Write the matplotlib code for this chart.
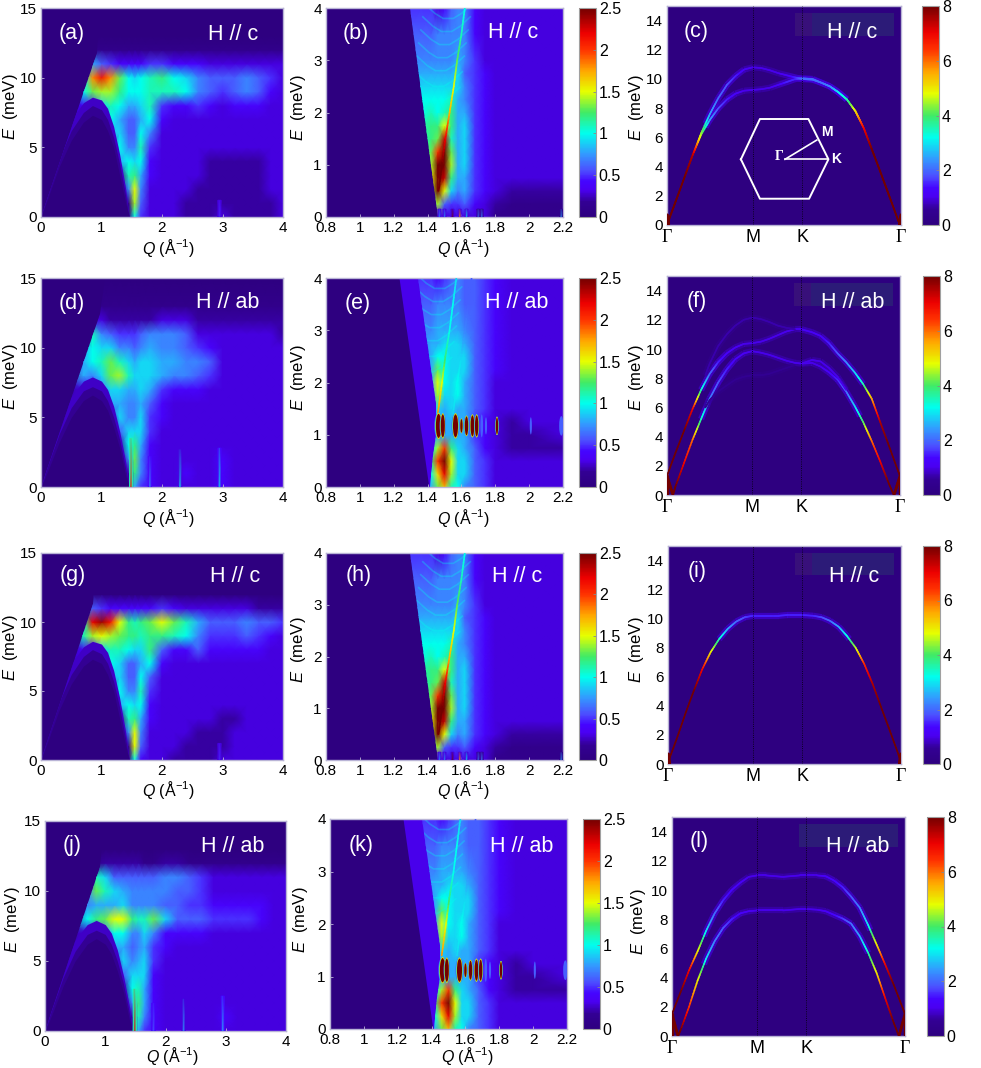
import numpy as np
import matplotlib
matplotlib.use("Agg")
import matplotlib.pyplot as plt
from matplotlib.collections import LineCollection
from matplotlib.colors import LinearSegmentedColormap, Normalize
from matplotlib.cm import ScalarMappable
from matplotlib.patches import Ellipse, Polygon, Rectangle

plt.rcParams['font.family'] = ['Liberation Sans', 'DejaVu Sans']
plt.rcParams['mathtext.fontset'] = 'custom'
plt.rcParams['mathtext.rm'] = 'Liberation Sans'
plt.rcParams['mathtext.it'] = 'Liberation Sans:italic'

W, H = 981, 1068

# intensities are in tenths of the colorbar unit (0-25)
q_wide = [0, .4, .7, .85, 1, 1.15, 1.3, 1.45, 1.55, 1.65, 1.8, 2, 2.2, 2.4, 2.6, 2.8, 3, 3.2, 3.4, 3.6, 3.8, 4]
e_wide = [0, 1, 2, 3, 4, 5, 6, 7, 8, 9, 10, 11, 12, 13, 15]

grid_a = [
    [0, 0, 0, 0, 0, 0, 0, 0, 10, 5, 3, 3, 3, 2, 2, 2, 3, 2, 2, 2, 2, 3],
    [1, 1, 0, 0, 0, 0, 0, 1, 14, 6, 3, 3, 3, 2, 2, 2, 2, 2, 2, 2, 2, 3],
    [1, 1, 0, 0, 0, 0, 0, 7, 15, 7, 3, 3, 3, 3, 2, 2, 2, 2, 2, 2, 3, 3],
    [1, 1, 1, 0, 0, 0, 1, 11, 12, 8, 4, 3, 3, 3, 3, 2, 2, 2, 2, 2, 3, 3],
    [1, 2, 2, 1, 0, 0, 8, 10, 9, 10, 4, 3, 3, 3, 3, 2, 2, 2, 2, 2, 3, 3],
    [1, 2, 3, 2, 1, 2, 10, 7, 7, 11, 5, 3, 3, 3, 3, 3, 3, 3, 3, 3, 3, 3],
    [1, 2, 3, 3, 2, 8, 9, 6, 6, 10, 7, 3, 3, 3, 3, 3, 3, 3, 3, 3, 3, 3],
    [1, 2, 3, 3, 5, 10, 8, 6, 6, 8, 10, 4, 3, 3, 3, 3, 3, 3, 3, 3, 3, 3],
    [1, 2, 4, 5, 9, 11, 10, 8, 8, 9, 11, 5, 4, 4, 5, 4, 3, 4, 4, 4, 3, 3],
    [1, 2, 10, 13, 14, 14, 12, 10, 10, 10, 11, 11, 11, 10, 7, 6, 5, 6, 7, 6, 4, 3],
    [1, 2, 10, 18, 21, 18, 13, 10, 9, 10, 11, 12, 10, 9, 7, 6, 6, 6, 7, 6, 5, 3],
    [0, 0, 2, 8, 6, 5, 4, 4, 4, 4, 5, 5, 4, 4, 4, 3, 3, 3, 3, 3, 3, 3],
    [0, 0, 0, 1, 1, 1, 1, 1, 1, 1, 1, 1, 1, 1, 1, 1, 1, 1, 1, 1, 1, 1],
    [0] * 22,
    [0] * 22,
]
grid_d = [
    [0, 0, 0, 0, 0, 0, 0, 0, 8, 5, 4, 3, 3, 3, 3, 3, 4, 3, 3, 3, 3, 3],
    [1, 1, 0, 0, 0, 0, 0, 2, 12, 7, 4, 3, 3, 4, 3, 3, 4, 3, 3, 3, 3, 3],
    [1, 1, 0, 0, 0, 0, 0, 7, 13, 7, 4, 3, 3, 3, 3, 3, 4, 3, 3, 3, 3, 3],
    [1, 2, 1, 0, 0, 0, 2, 10, 12, 8, 4, 3, 3, 3, 3, 3, 3, 3, 3, 3, 3, 3],
    [1, 2, 2, 1, 0, 0, 6, 9, 9, 9, 5, 3, 3, 3, 3, 3, 3, 3, 3, 3, 3, 3],
    [1, 2, 3, 2, 1, 3, 9, 7, 7, 9, 5, 4, 3, 3, 3, 3, 3, 3, 3, 3, 3, 3],
    [1, 2, 3, 3, 3, 8, 8, 7, 7, 8, 6, 4, 3, 3, 3, 3, 3, 3, 3, 3, 3, 3],
    [1, 2, 3, 4, 7, 9, 9, 8, 8, 9, 8, 5, 4, 4, 4, 3, 3, 3, 3, 3, 3, 3],
    [1, 2, 8, 7, 9, 13, 14, 11, 9, 9, 9, 8, 7, 7, 6, 5, 3, 3, 3, 3, 3, 3],
    [1, 2, 8, 10, 11, 13, 11, 9, 8, 9, 9, 8, 8, 7, 7, 6, 3, 3, 3, 3, 3, 3],
    [1, 2, 8, 10, 9, 9, 7, 7, 6, 7, 8, 7, 7, 6, 5, 4, 3, 3, 3, 3, 3, 3],
    [0, 0, 1, 11, 7, 6, 5, 5, 5, 6, 7, 7, 7, 6, 3, 3, 3, 3, 3, 3, 3, 2],
    [0, 0, 0, 3, 3, 2, 2, 2, 2, 2, 2, 3, 3, 3, 2, 2, 2, 2, 2, 2, 2, 2],
    [0, 0, 0, 0, 1, 1, 1, 1, 1, 1, 1, 1, 1, 1, 1, 1, 1, 1, 1, 1, 1, 1],
    [0] * 22,
]
grid_g = [
    [0, 0, 0, 0, 0, 0, 0, 0, 10, 4, 3, 3, 2, 2, 2, 2, 3, 3, 3, 3, 3, 3],
    [0, 1, 0, 0, 0, 0, 0, 1, 15, 6, 3, 3, 3, 2, 2, 2, 2, 3, 3, 3, 3, 3],
    [0, 1, 0, 0, 0, 0, 0, 7, 15, 7, 3, 3, 3, 3, 2, 2, 2, 3, 3, 3, 3, 3],
    [1, 1, 1, 0, 0, 0, 1, 11, 12, 8, 4, 3, 3, 3, 3, 3, 2, 2, 3, 3, 3, 3],
    [1, 1, 2, 1, 0, 0, 8, 10, 9, 10, 4, 3, 3, 3, 3, 3, 3, 3, 3, 3, 3, 3],
    [1, 1, 2, 2, 1, 2, 10, 7, 7, 11, 5, 3, 3, 3, 3, 3, 3, 3, 3, 3, 3, 3],
    [1, 2, 2, 3, 2, 8, 9, 6, 6, 10, 6, 3, 3, 3, 3, 3, 3, 3, 3, 3, 3, 3],
    [1, 2, 3, 3, 5, 10, 9, 6, 6, 8, 10, 4, 3, 3, 3, 3, 3, 3, 3, 3, 3, 3],
    [1, 2, 4, 4, 9, 11, 11, 10, 9, 9, 12, 6, 4, 4, 6, 4, 4, 4, 4, 4, 3, 3],
    [1, 2, 11, 14, 15, 14, 13, 12, 12, 11, 12, 12, 11, 10, 7, 5, 5, 5, 6, 5, 4, 3],
    [1, 2, 11, 22, 24, 21, 15, 12, 11, 12, 13, 15, 13, 11, 8, 6, 6, 6, 7, 6, 6, 5],
    [0, 0, 1, 6, 5, 4, 4, 4, 4, 4, 4, 5, 4, 3, 3, 3, 3, 3, 3, 2, 2, 2],
    [0] * 22,
    [0] * 22,
    [0] * 22,
]
grid_j = [
    [0, 0, 0, 0, 0, 0, 0, 0, 8, 5, 4, 3, 3, 3, 3, 3, 3, 3, 3, 3, 3, 3],
    [1, 1, 0, 0, 0, 0, 0, 2, 11, 7, 4, 3, 3, 3, 3, 3, 4, 3, 3, 3, 3, 3],
    [1, 1, 0, 0, 0, 0, 0, 7, 12, 8, 4, 3, 3, 3, 3, 3, 3, 3, 3, 3, 3, 3],
    [1, 1, 1, 0, 0, 0, 2, 10, 11, 8, 4, 3, 3, 3, 3, 3, 3, 3, 3, 3, 3, 3],
    [1, 2, 2, 1, 0, 0, 6, 9, 9, 9, 4, 3, 3, 3, 3, 3, 3, 3, 3, 3, 3, 3],
    [1, 2, 2, 2, 1, 3, 9, 7, 8, 9, 5, 3, 3, 3, 3, 3, 3, 3, 3, 3, 3, 3],
    [1, 2, 3, 3, 3, 8, 8, 6, 7, 8, 5, 4, 3, 3, 3, 3, 3, 3, 3, 3, 3, 3],
    [1, 2, 3, 4, 7, 10, 10, 7, 7, 9, 7, 4, 4, 4, 4, 3, 3, 3, 3, 3, 3, 3],
    [1, 2, 10, 12, 13, 15, 15, 12, 11, 11, 13, 9, 6, 6, 6, 5, 5, 5, 5, 4, 3, 3],
    [1, 2, 7, 8, 8, 8, 9, 7, 7, 7, 7, 6, 6, 5, 5, 4, 4, 4, 4, 4, 3, 3],
    [1, 2, 7, 13, 11, 9, 8, 7, 7, 7, 7, 7, 6, 6, 5, 3, 3, 3, 3, 3, 3, 3],
    [0, 0, 0, 11, 9, 6, 6, 6, 6, 6, 6, 7, 7, 6, 5, 3, 3, 3, 3, 3, 3, 3],
    [0, 0, 0, 1, 2, 2, 2, 2, 2, 1, 1, 2, 2, 1, 1, 1, 1, 1, 1, 1, 1, 1],
    [0] * 22,
    [0] * 22,
]

q_zoom = [.8, 1.2, 1.28, 1.36, 1.42, 1.46, 1.5, 1.54, 1.58, 1.62, 1.68, 1.74, 1.8, 1.9, 2.0, 2.2]
e_zoom = [0, .25, .5, .75, 1, 1.25, 1.5, 1.75, 2, 2.25, 2.5, 2.75, 3, 3.5, 4]

grid_b = [
    [0, 0, 0, 0, 0, 4, 3, 3, 3, 3, 3, 3, 1, 1, 1, 1],
    [0, 0, 0, 0, 8, 14, 6, 5, 5, 6, 4, 3, 2, 1, 1, 1],
    [0, 0, 0, 0, 14, 25, 15, 9, 7, 8, 5, 4, 3, 2, 2, 2],
    [0, 0, 0, 9, 15, 25, 23, 12, 8, 8, 5, 4, 3, 3, 3, 3],
    [0, 0, 0, 11, 14, 25, 25, 14, 8, 9, 5, 4, 3, 3, 3, 3],
    [0, 0, 0, 11, 13, 20, 25, 13, 8, 9, 5, 4, 3, 3, 3, 3],
    [0, 0, 6, 11, 12, 13, 23, 11, 8, 9, 5, 4, 3, 3, 3, 3],
    [0, 0, 7, 11, 12, 12, 15, 12, 8, 9, 5, 4, 3, 3, 3, 3],
    [0, 0, 8, 10, 11, 10, 11, 12, 8, 8, 5, 4, 3, 3, 3, 3],
    [0, 0, 8, 10, 10, 10, 10, 11, 8, 7, 5, 4, 3, 3, 3, 3],
    [0, 0, 8, 9, 9, 9, 9, 9, 9, 7, 5, 4, 3, 3, 3, 3],
    [0, 0, 8, 8, 8, 8, 8, 8, 9, 6, 5, 4, 3, 3, 3, 3],
    [0, 0, 7, 7, 7, 7, 7, 7, 8, 7, 5, 3, 3, 3, 3, 3],
    [0, 0, 6, 6, 6, 7, 7, 7, 7, 7, 4, 3, 3, 3, 3, 3],
    [0, 0, 5, 5, 5, 3, 4, 6, 7, 7, 4, 3, 3, 3, 3, 3],
]
grid_e = [
    [0, 0, 0, 0, 8, 13, 17, 11, 10, 7, 6, 5, 3, 3, 3, 3],
    [0, 0, 0, 0, 10, 16, 22, 14, 9, 9, 6, 5, 3, 3, 3, 3],
    [0, 0, 0, 0, 12, 20, 25, 15, 9, 9, 6, 5, 3, 3, 3, 3],
    [0, 0, 0, 0, 10, 14, 20, 12, 9, 8, 6, 4, 3, 2, 2, 2],
    [0, 0, 0, 0, 6, 8, 8, 8, 8, 8, 5, 4, 3, 2, 2, 3],
    [0, 0, 0, 0, 6, 8, 8, 8, 8, 8, 5, 4, 3, 2, 3, 3],
    [0, 0, 0, 5, 7, 9, 8, 9, 8, 8, 6, 5, 3, 3, 3, 3],
    [0, 0, 0, 6, 8, 14, 9, 9, 10, 8, 6, 5, 3, 3, 3, 3],
    [0, 0, 0, 7, 8, 15, 10, 9, 10, 8, 6, 5, 3, 3, 3, 3],
    [0, 0, 6, 7, 8, 13, 10, 9, 9, 9, 6, 5, 4, 3, 3, 3],
    [0, 0, 6, 7, 8, 10, 10, 9, 9, 9, 6, 5, 4, 3, 3, 3],
    [0, 0, 6, 7, 8, 8, 9, 9, 9, 8, 6, 5, 4, 3, 3, 3],
    [0, 0, 6, 7, 7, 8, 8, 8, 8, 7, 6, 5, 4, 3, 3, 3],
    [0, 0, 5, 6, 6, 7, 7, 7, 7, 6, 6, 5, 4, 3, 3, 3],
    [0, 0, 5, 5, 5, 4, 5, 6, 7, 6, 6, 5, 4, 3, 3, 3],
]

# low energy arches of the wide panels
arch_q_c = [0, .1, .3, .5, .7, .85, 1, 1.1, 1.2, 1.3, 1.4, 1.46]
arch_outer_c = [0, 2.2, 4.8, 7, 8.2, 8.6, 8.4, 7.8, 6.5, 4.5, 2, 0]
arch_mid_c = [0, 1.7, 4.2, 6.2, 7.5, 8, 7.7, 7, 5.7, 3.8, 1.5, 0]
arch_inner_c = [0, 1.2, 3.6, 5.5, 6.8, 7.3, 7, 6.2, 5, 3, 1, 0]
arch_outer_ab = [0, 1.8, 4.4, 6.5, 7.6, 7.9, 7.6, 7, 5.8, 4, 1.8, 0]
arch_mid_ab = [0, 1.4, 3.8, 5.7, 6.9, 7.2, 6.9, 6.2, 5, 3.4, 1.3, 0]
arch_inner_ab = [0, 1, 3.2, 5, 6.2, 6.6, 6.2, 5.5, 4.3, 2.8, .8, 0]

# narrow streaks: q, top energy, peak, background
spikes_a = ([2.95], [1.2], [5], [3])
spikes_d = ([1.49, 1.8, 2.3, 2.95], [3.5, 2.2, 2.7, 2.8], [21, 7, 9, 10], [11, 4, 3, 4])
spikes_j = ([1.49, 1.8, 2.3, 2.95], [3, 2, 2.3, 2.5], [22, 6, 8, 8], [11, 4, 3, 4])
spikes_b = ([1.47, 1.5, 1.547, 1.59, 1.63, 1.7, 1.72, 2.19], [.15] * 8, [8, 8, 25, 18, 10, 7, 7, 8], [3, 3, 3, 3, 3, 2, 2, 1])

# bright ridges in the zoomed panels
ridge_b_e = [.5, 1, 1.5, 2, 2.5, 3, 3.5, 4]
ridge_b_q = [1.465, 1.485, 1.505, 1.53, 1.555, 1.575, 1.6, 1.62]
ridge_b_v = [25, 25, 22, 17, 15, 13, 11, 10]
ridge_e_e = [1.4, 2, 2.5, 3, 3.5, 4]
ridge_e_q = [1.46, 1.485, 1.505, 1.53, 1.55, 1.57]
ridge_e_v = [18, 15, 12, 10, 10, 9]
ridge2_e_e = [1.4, 2, 2.5, 3, 3.5, 4]
ridge2_e_q = [1.55, 1.575, 1.6, 1.62, 1.64, 1.66]
ridge2_e_v = [9, 10, 9, 7, 6, 6]

# faint U shaped fringes in the upper part of the zoomed panels
fringe_e = [2.2, 2.5, 2.8, 3.05, 3.3, 3.55, 3.8]
fringe_dq = [-.14, -.08, -.03, .03, .08, .14]
fringe_de = [.28, .1, 0, 0, .1, .28]

# bright spots near 1.2 meV in the H // ab panels
spot_q = [1.465, 1.49, 1.565, 1.6, 1.63, 1.665, 1.69, 1.81, 1.72, 1.745, 2.01, 2.19]
spot_w = [.016, .012, .015, .007, .01, .011, .01, .007, .005, .004, .004, .008]
spot_h = [.23, .22, .22, .13, .18, .2, .2, .16, .2, .15, .15, .17]
spot_v = [25, 25, 25, 25, 25, 25, 25, 25, 10, 6, 6, 10]

# band structure along Gamma-M-K-Gamma
k_ticks = [0, 1, 1.577, 2.732]
k_labels = ['\u0393', 'M', 'K', '\u0393']
k_path = [0, .1, .2, .3, .4, .5, .6, .7, .8, .9, 1, 1.1, 1.2, 1.3, 1.4, 1.5, 1.577,
          1.7, 1.8, 1.9, 2, 2.1, 2.2, 2.3, 2.4, 2.5, 2.6, 2.7, 2.732]
k_low = [.07, .1, .2, .3, .4, .5, .6, .7, .8, .9, 1, 1.1, 1.2, 1.3, 1.4, 1.5, 1.577,
         1.7, 1.8, 1.9, 2, 2.1, 2.2, 2.3, 2.4, 2.5, 2.6, 2.66]

c_upper = [0, 1.6, 3.2, 4.8, 6.3, 7.6, 8.7, 9.6, 10.2, 10.65, 10.8, 10.75, 10.6, 10.4, 10.25, 10.1, 10,
           9.95, 9.75, 9.5, 9.1, 8.6, 7.8, 6.6, 5.05, 3.5, 1.9, .3, 0]
c_upper_i = [8, 8, 8, 7.5, 4.5, 2.5, 2, 1.8, 1.5, 1.2, 1, 1, 1, 1, 1.2, 1.5, 2,
             2, 2, 2.2, 3, 3.5, 5, 7, 8, 8, 8, 8, 8]
c_lower = [0, 1.6, 3.2, 4.8, 6.2, 7.2, 8, 8.6, 9, 9.2, 9.25, 9.3, 9.4, 9.6, 9.8, 10, 10.05,
           10, 9.75, 9.5, 9.1, 8.6, 7.8, 6.6, 5.05, 3.5, 1.9, .3, 0]
c_lower_i = [8, 8, 8, 7.5, 4.5, 2.5, 1.8, 1.5, 1.2, 1, 1, 1, 1, 1.2, 1.5, 1.5, 2,
             2, 2, 2.2, 3, 3.5, 5, 7, 8, 8, 8, 8, 8]

f_upper = [1.3, 2.9, 4.4, 5.9, 7.2, 8.3, 9.1, 9.7, 10.1, 10.35, 10.4, 10.5, 10.7, 10.95, 11.2, 11.35, 11.35,
           11.15, 10.9, 10.4, 9.7, 9.1, 8.4, 7.6, 6.6, 5, 3.4, 1.8, 1.3]
f_upper_i = [8, 8, 8, 7, 3.5, 2, 1.5, 1.2, 1.1, 1, 1, 1, 1, 1, 1, 1, 1.2,
             1.2, 1.2, 1.5, 1.8, 2.2, 2.8, 3.5, 5.5, 7.5, 8, 8, 8]
f_lower = [0, .6, 2.2, 3.8, 5.2, 6.6, 7.7, 8.6, 9.3, 9.7, 9.85, 9.75, 9.6, 9.4, 9.2, 9.05, 9,
           9.05, 8.8, 8.4, 7.9, 7.1, 6.1, 5, 3.7, 2.3, .8, 0]
f_lower_i = [8, 8, 7, 6, 3.5, 2.2, 1.8, 1.5, 1.2, 1.1, 1, 1, 1, 1, 1, 1, 1, 1, 1,
             1.2, 1.5, 2, 2.8, 4, 6, 7, 8, 8]
f_faint_k = [.45, .5, .6, .7, .8, .9, 1, 1.1, 1.2, 1.3, 1.4, 1.5]
f_top = [8.2, 9, 10.2, 11, 11.6, 12, 12.15, 12.05, 11.85, 11.6, 11.45, 11.35]
f_bottom = [6, 6.5, 7.1, 7.5, 7.9, 8.1, 8.2, 8.2, 8.3, 8.5, 8.7, 8.9]
f_split_k = [1.577, 1.7, 1.8, 1.9, 2, 2.1]
f_split = [9, 9.25, 9.15, 8.7, 8.1, 7.2]

i_band = [.1, 1.7, 3.4, 5, 6.5, 7.7, 8.6, 9.3, 9.8, 10.1, 10.2, 10.2, 10.2, 10.2, 10.25, 10.25, 10.25,
          10.2, 10.1, 9.85, 9.45, 8.8, 8, 6.9, 5.5, 3.9, 2.3, .7, .1]
i_band_i = [8, 8, 8, 8, 7, 5, 3.5, 2.5, 2, 1.7, 1.5, 1.5, 1.5, 1.5, 1.5, 1.5, 1.5,
            1.5, 1.7, 2, 2.5, 3.2, 4.5, 6.5, 7.5, 8, 8, 8, 8]

l_upper = [1.5, 3, 4.5, 5.8, 7.2, 8.4, 9.3, 10, 10.5, 10.9, 11, 11, 10.95, 10.9, 10.95, 11, 11,
           11, 10.95, 10.65, 10.2, 9.55, 8.8, 7.6, 6.25, 4.9, 3.5, 2, 1.5]
l_upper_i = [8, 8, 7, 5, 3, 2, 1.5, 1.3, 1.2, 1, 1, 1, 1, 1, 1, 1, 1, 1,
             1.2, 1.3, 1.5, 1.8, 2.2, 3, 5, 7, 8, 8, 8]
l_lower = [0, .4, 2, 3.8, 5.3, 6.5, 7.4, 8, 8.4, 8.55, 8.6, 8.6, 8.6, 8.6, 8.65, 8.7, 8.7,
           8.65, 8.55, 8.3, 8.05, 7.7, 6.85, 5.7, 4.3, 2.6, .9, 0]
l_lower_i = [8, 8, 6.5, 5, 3, 2.2, 1.8, 1.5, 1.2, 1.1, 1, 1, 1, 1, 1, 1, 1, 1,
             1.1, 1.3, 1.6, 2, 2.5, 3.5, 5, 7, 8, 8]

hex_x = [.863, 1.085, 1.651, 1.885, 1.659, 1.085, .863]
hex_y = [4.5, 7.26, 7.26, 4.5, 1.8, 1.8, 4.5]

cmap = LinearSegmentedColormap.from_list('rainbow_dark', [
    (0, (.18, 0, .5)), (.07, (.2, 0, .58)), (.13, (.29, 0, .95)), (.17, (.27, .02, 1)),
    (.22, (.3, .3, 1)), (.3, (.2, .6, 1)), (.4, (0, 1, .93)), (.5, (.25, .92, .4)),
    (.6, (.9, 1, 0)), (.7, (1, .65, 0)), (.8, (1, .2, 0)), (.88, (.93, 0, 0)), (1, (.45, 0, 0))])
norm25 = Normalize(0, 25)
norm8 = Normalize(0, 8)
dark = cmap(0)
edge_col = '#b9b4d6'

fig = plt.figure(figsize=(W / 100, H / 100), dpi=100)


def px_axes(x0, y0, x1, y1):
    return fig.add_axes([x0 / W, 1 - y1 / H, (x1 - x0) / W, (y1 - y0) / H])


def label(x, y, s, **kw):
    fig.text(x / W, 1 - y / H, s, ha='center', va='center', **kw)


def style(ax):
    ax.set_facecolor(dark)
    for s in ax.spines.values():
        s.set_color(edge_col)
        s.set_linewidth(1)
    ax.tick_params(length=2, width=.6, color=edge_col, labelsize=11, pad=3, direction='in')


def add_colorbar(box, norm, ticks, names):
    cax = px_axes(*box)
    cb = fig.colorbar(ScalarMappable(norm=norm, cmap=cmap), cax=cax)
    cb.set_ticks(ticks)
    cb.set_ticklabels(names)
    cax.tick_params(length=2, width=.6, color='#888888', labelsize=11.5, pad=2, direction='in')
    cb.outline.set_edgecolor('#a0a0a0')
    cb.outline.set_linewidth(.8)


def add_spikes(ax, spikes, width):
    for q, top, peak, bg in zip(*spikes):
        ax.pcolormesh([q - width, q, q + width], [0, top], [[bg, peak, bg], [bg, bg, bg]],
                      shading='gouraud', cmap=cmap, norm=norm25, zorder=4)


def graded_segments(x, y, v, steps=8):
    # split each piece of a line so its colour changes gradually along it
    segs, vals = [], []
    for i in range(len(x) - 1):
        xs = np.linspace(x[i], x[i + 1], steps + 1)
        ys = np.linspace(y[i], y[i + 1], steps + 1)
        vs = np.linspace(v[i], v[i + 1], steps + 1)
        for j in range(steps):
            segs.append([(xs[j], ys[j]), (xs[j + 1], ys[j + 1])])
            vals.append((vs[j] + vs[j + 1]) / 2)
    return segs, np.array(vals)


def add_ridge(ax, q, e, v, lw=1.2):
    segs, vals = graded_segments(q, e, v)
    lc = LineCollection(segs, cmap=cmap, norm=norm25, linewidths=lw, zorder=3, capstyle='round')
    lc.set_array(vals)
    ax.add_collection(lc)


def wide_panel(box, grid, wedge, arches, spikes):
    ax = px_axes(*box)
    style(ax)
    clip = Polygon(wedge, transform=ax.transData)
    mesh = ax.pcolormesh(q_wide, e_wide, grid, shading='gouraud', cmap=cmap, norm=norm25, zorder=1)
    mesh.set_clip_path(clip)
    for arch, level in zip(arches, (2.6, 1.7, 0)):
        fill = ax.fill_between(arch_q_c, 0, arch, color=cmap(norm25(level)), lw=0, zorder=2)
        fill.set_clip_path(clip)
    add_spikes(ax, spikes, .025)
    ax.set_xlim(0, 4)
    ax.set_ylim(0, 15)
    ax.set_xticks([0, 1, 2, 3, 4])
    ax.set_yticks([0, 5, 10, 15])
    return ax


def zoom_panel(box, grid, inner, outer, ridges, spots_e=None, spikes=None):
    ax = px_axes(*box)
    style(ax)
    clip = Polygon(inner, transform=ax.transData)
    if outer is not None:
        band = Polygon(outer, closed=True, facecolor=cmap(norm25(3.2)), edgecolor='none', zorder=.5)
        ax.add_patch(band)
    mesh = ax.pcolormesh(q_zoom, e_zoom, grid, shading='gouraud', cmap=cmap, norm=norm25, zorder=1)
    mesh.set_clip_path(clip)
    for e0, rq in zip(fringe_e, np.interp(fringe_e, ridges[0][1], ridges[0][0])):
        center = rq - .09
        line, = ax.plot([center + d for d in fringe_dq], [e0 + d for d in fringe_de],
                        color=cmap(norm25(10)), lw=1.2, alpha=.3, zorder=2)
        line.set_clip_path(clip)
    for q, e, v in ridges:
        add_ridge(ax, q, e, v)
    if spots_e is not None:
        for q, w, h, v in zip(spot_q, spot_w, spot_h, spot_v):
            for scale, lev in ((1.6, 6), (1.3, 11), (1.12, 16), (1, 25)):
                if lev <= v or lev == 6:
                    ax.add_patch(Ellipse((q, spots_e), 2 * w * scale, 2 * h * min(scale, 1.1),
                                         facecolor=cmap(norm25(min(lev, v))), edgecolor='none', zorder=5))
    if spikes is not None:
        add_spikes(ax, spikes, .008)
    ax.set_xlim(.8, 2.2)
    ax.set_ylim(0, 4)
    ax.set_xticks([.8, 1, 1.2, 1.4, 1.6, 1.8, 2, 2.2])
    ax.set_xticklabels(['0.8', '1', '1.2', '1.4', '1.6', '1.8', '2', '2.2'])
    ax.set_yticks([0, 1, 2, 3, 4])
    return ax


def draw_band(ax, k, e, v, lw=1.2):
    segs, vals = graded_segments(k, e, v)
    glow = LineCollection(segs, cmap=cmap, norm=norm8, alpha=.55, zorder=2,
                          linewidths=np.where(vals < 3.5, 4.5, 0))
    glow.set_array(np.clip(vals * .8, 0, 1.1))
    ax.add_collection(glow)
    lc = LineCollection(segs, cmap=cmap, norm=norm8, linewidths=lw, zorder=3, capstyle='round')
    lc.set_array(vals)
    ax.add_collection(lc)


def band_panel(box, bands, tip, rect_split):
    ax = px_axes(*box)
    style(ax)
    for b in bands:
        draw_band(ax, *b)
    # crossing at the Gamma points
    for k0, k1 in ((0, tip[0]), (2.732, 2.732 - tip[0])):
        draw_band(ax, [k0, k1], [tip[1], 0], [8, 8], lw=2)
        draw_band(ax, [k0, k0], [0, tip[1]], [8, 8], lw=2.4)
    ax.axvline(1, color='black', lw=.6, ls=':', zorder=4)
    ax.axvline(1.577, color='black', lw=.6, ls=':', zorder=4)
    # translucent patch behind the field label
    ax.add_patch(Rectangle((.547, .865), .423, .105, transform=ax.transAxes,
                           facecolor='#2c1b78', edgecolor='none', zorder=1))
    if rect_split:
        ax.add_patch(Rectangle((.547, .865), .072, .105, transform=ax.transAxes,
                               facecolor='#38107a', edgecolor='none', zorder=1))
    ax.set_xlim(0, 2.732)
    ax.set_ylim(0, 15)
    ax.set_yticks(range(0, 15, 2))
    ax.set_xticks(k_ticks)
    ax.set_xticklabels(k_labels, fontsize=13)
    for lab in ax.get_xticklabels():
        if lab.get_text() == '\u0393':
            lab.set_family('Liberation Serif')
    ax.tick_params(axis='x', length=0, pad=3)
    ax.tick_params(axis='y', length=0)
    return ax


# rows of panels: left, middle, right
wedge_a = [(0, 0), (.93, 11.8), (.98, 15), (4, 15), (4, 0)]
wedge_d = [(0, 0), (.97, 12.4), (1.05, 15), (4, 15), (4, 0)]
wedge_g = [(0, 0), (.86, 11.3), (.92, 15), (4, 15), (4, 0)]
wedge_j = [(0, 0), (.92, 11.7), (.98, 15), (4, 15), (4, 0)]
arches_c = (arch_outer_c, arch_mid_c, arch_inner_c)
arches_ab = (arch_outer_ab, arch_mid_ab, arch_inner_ab)

wide_panel((41, 8, 283, 217), grid_a, wedge_a, arches_c, spikes_a)
wide_panel((41, 278, 283, 487), grid_d, wedge_d, arches_ab, spikes_d)
wide_panel((41, 553, 283, 760), grid_g, wedge_g, arches_c, spikes_a)
wide_panel((45, 821, 286, 1031), grid_j, wedge_j, arches_ab, spikes_j)

edge_b = [(1.294, 4), (1.46, 0), (2.2, 0), (2.2, 4)]
inner_e = [(1.343, 4), (1.45, 1.6), (1.45, 1), (1.43, .6), (1.415, 0), (2.2, 0), (2.2, 4)]
outer_e = [(1.234, 4), (1.41, 0), (1.6, 0), (1.6, 4)]
ridges_b = [(ridge_b_q, ridge_b_e, ridge_b_v)]
ridges_e = [(ridge_e_q, ridge_e_e, ridge_e_v), (ridge2_e_q, ridge2_e_e, ridge2_e_v)]

zoom_panel((326, 8, 563, 217), grid_b, edge_b, None, ridges_b, spikes=spikes_b)
zoom_panel((326, 278, 563, 487), grid_e, inner_e, outer_e, ridges_e, spots_e=1.17)
zoom_panel((326, 553, 563, 760), grid_b, edge_b, None, ridges_b, spikes=spikes_b)
zoom_panel((330, 819, 567, 1029), grid_e, inner_e, outer_e, ridges_e, spots_e=1.12)

ticks25 = [0, .5, 1, 1.5, 2, 2.5]
names25 = ['0', '0.5', '1', '1.5', '2', '2.5']
add_colorbar((579, 8, 596, 217), norm25, [t * 10 for t in ticks25], names25)
add_colorbar((579, 278, 596, 487), norm25, [t * 10 for t in ticks25], names25)
add_colorbar((579, 553, 596, 760), norm25, [t * 10 for t in ticks25], names25)
add_colorbar((583, 819, 600, 1029), norm25, [t * 10 for t in ticks25], names25)

ax_c = band_panel((667, 6, 901, 225), [(k_path, c_upper, c_upper_i), (k_path, c_lower, c_lower_i)], (.02, .7), True)
band_panel((667, 276, 900, 495), [(k_path, f_upper, f_upper_i), (k_low, f_lower, f_lower_i),
                                  (f_faint_k, f_top, [.7] * 12), (f_faint_k, f_bottom, [.5] * 12),
                                  (f_split_k, f_split, [1] * 6)], (.07, 1.3), True)
band_panel((668, 546, 901, 764), [(k_path, i_band, i_band_i)], (.02, .7), True)
band_panel((672, 817, 905, 1036), [(k_path, l_upper, l_upper_i), (k_low, l_lower, l_lower_i)], (.07, 1.5), False)

# Brillouin zone sketch in panel (c)
ax_c.plot(hex_x, hex_y, color='white', lw=1.4, zorder=6)
ax_c.plot([1.378, 1.749], [4.5, 5.82], color='white', lw=1.2, zorder=6)
ax_c.plot([1.378, 1.885], [4.5, 4.5], color='white', lw=1.2, zorder=6)
ax_c.text(1.31, 4.72, '\u0393', color='white', fontsize=10, fontweight='bold', family='Liberation Serif',
          ha='center', va='center', zorder=6)
ax_c.text(1.87, 6.35, 'M', color='white', fontsize=10, fontweight='bold', ha='center', va='center', zorder=6)
ax_c.text(1.98, 4.5, 'K', color='white', fontsize=10, fontweight='bold', ha='center', va='center', zorder=6)

ticks8 = [0, 2, 4, 6, 8]
names8 = ['0', '2', '4', '6', '8']
add_colorbar((922, 6, 939, 225), norm8, ticks8, names8)
add_colorbar((923, 276, 940, 495), norm8, ticks8, names8)
add_colorbar((923, 546, 940, 764), norm8, ticks8, names8)
add_colorbar((927, 817, 944, 1036), norm8, ticks8, names8)

# panel letters and field labels
panel_names = ['(a)', '(b)', '(c)', '(d)', '(e)', '(f)', '(g)', '(h)', '(i)', '(j)', '(k)', '(l)']
panel_x = [72, 356, 696, 72, 358, 697, 73, 359, 697, 72, 361, 699]
panel_y = [34, 33, 32, 304, 303, 302, 576, 575, 571, 845, 845, 842]
field_names = ['H // c', 'H // c', 'H // c', 'H // ab', 'H // ab', 'H // ab',
               'H // c', 'H // c', 'H // c', 'H // ab', 'H // ab', 'H // ab']
field_x = [233, 513, 852, 228, 517, 853, 235, 517, 854, 233, 522, 858]
field_y = [34, 33, 33, 302, 302, 302, 577, 577, 577, 846, 846, 846]
for s, x, y in zip(panel_names, panel_x, panel_y):
    label(x, y, s, color='white', fontsize=15.5, zorder=10)
for s, x, y in zip(field_names, field_x, field_y):
    label(x, y, s, color='white', fontsize=15.5, zorder=10)

e_text = r'$\mathit{E}$  (meV)'
for x, y in [(11, 107), (298, 108), (636, 108), (11, 377), (298, 378), (636, 378),
             (11, 648), (298, 650), (636, 650), (12, 920), (301, 920), (639, 922)]:
    label(x, y, e_text, fontsize=12, rotation=90)

q_text = r'$\mathit{Q}$ (Å$^{-1}$)'
for x, y in [(168, 248), (463, 248), (168, 518), (463, 518), (168, 790), (463, 790), (172, 1056), (467, 1056)]:
    label(x, y, q_text, fontsize=11.5)

fig.savefig('out.png', dpi=100)
